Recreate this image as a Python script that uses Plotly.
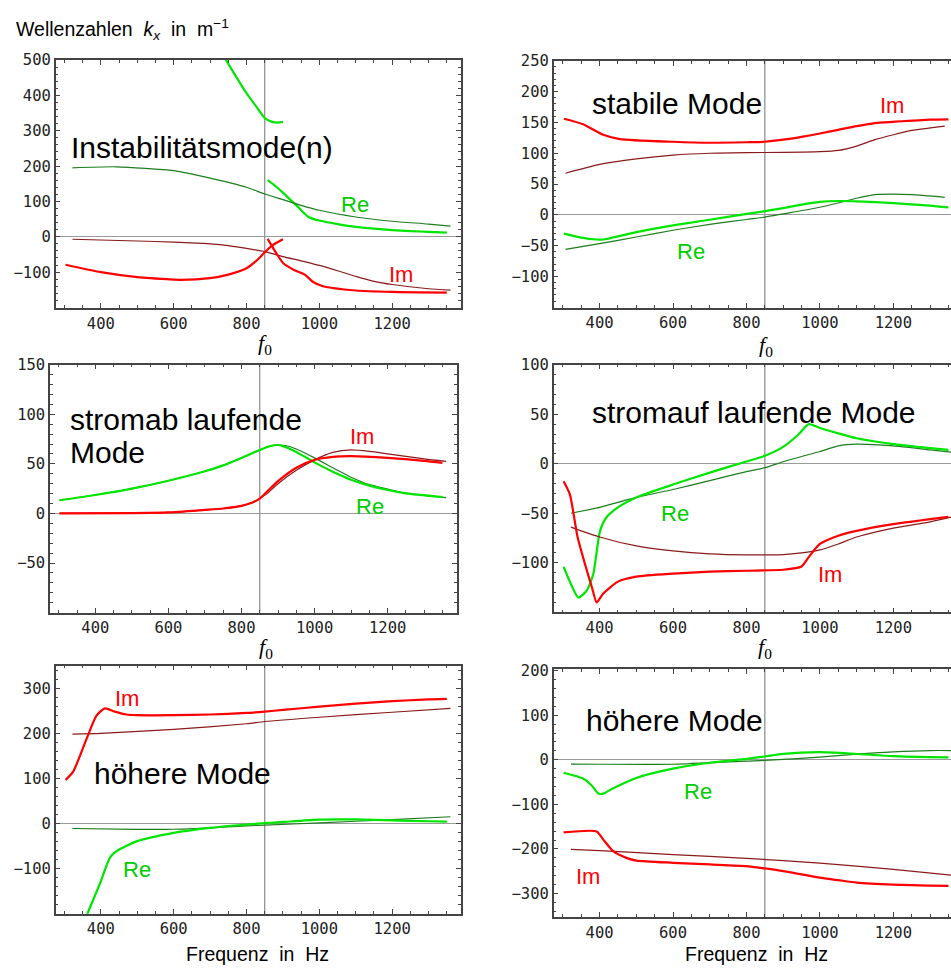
import plotly.graph_objects as go

F0 = 850  # reference frequency (vertical line)

# ---------- Panel 1: Instabilitätsmode(n) ----------
p1_re_a_f = [738, 760, 800, 830, 850, 870, 885, 900]
p1_re_a_v = [510, 472, 406, 364, 336, 325, 323, 325]
p1_re_b_f = [858, 880, 900, 920, 940, 960, 970, 985, 1000, 1050, 1100, 1150, 1200, 1250, 1300, 1350]
p1_re_b_v = [160, 143, 125, 105, 86, 65, 56, 50, 46, 36, 28, 23, 19, 16, 14, 12]
p1_re_t_f = [322, 443, 600, 700, 800, 850, 900, 950, 1000, 1100, 1200, 1300, 1360]
p1_re_t_v = [195, 198, 187, 166, 140, 121, 105, 89, 75, 56, 44, 36, 30]
p1_im_a_f = [303, 400, 500, 600, 620, 700, 750, 800, 830, 850, 870, 900]
p1_im_a_v = [-79, -100, -114, -121, -122, -117, -107, -89, -65, -44, -25, -7]
p1_im_b_f = [858, 882, 901, 929, 960, 983, 1010, 1100, 1200, 1350]
p1_im_b_v = [-6, -47, -75, -93, -107, -128, -140, -152, -156, -158]
p1_im_t_f = [322, 500, 600, 700, 750, 800, 850, 900, 950, 1000, 1050, 1100, 1150, 1200, 1300, 1360]
p1_im_t_v = [-7, -12, -15, -20, -25, -33, -42, -56, -68, -81, -96, -112, -126, -135, -147, -151]

# ---------- Panel 2: stabile Mode ----------
p2_im_f = [303, 355, 410, 455, 600, 700, 800, 850, 900, 950, 1000, 1050, 1100, 1150, 1200, 1300, 1350]
p2_im_v = [156, 147, 130, 123, 118.6, 117, 117.8, 118.6, 122, 126.6, 132, 138, 144, 149, 151, 154.5, 155]
p2_im_t_f = [307, 400, 500, 600, 700, 800, 900, 1000, 1050, 1100, 1150, 1200, 1250, 1340]
p2_im_t_v = [67.6, 82, 91, 97, 100, 101, 101.4, 102.5, 104.6, 111.6, 122, 130, 137, 144]
p2_re_f = [303, 350, 392, 410, 500, 600, 700, 800, 850, 900, 950, 1000, 1050, 1100, 1200, 1300, 1350]
p2_re_v = [-30.5, -37, -40, -40, -28, -17, -8, 1.6, 6, 11, 16.7, 21, 22.5, 22, 19, 15, 12]
p2_re_t_f = [307, 400, 500, 600, 700, 800, 850, 900, 1000, 1050, 1100, 1150, 1200, 1250, 1340]
p2_re_t_v = [-56, -46.6, -36, -25, -15.5, -7.5, -3.7, 1.6, 12.4, 19.3, 27, 32.8, 33.6, 32.8, 28.5]

# ---------- Panel 3: stromab laufende Mode ----------
p3_re_f = [302, 400, 500, 600, 700, 750, 800, 850, 880, 900, 920, 950, 1000, 1050, 1100, 1150, 1200, 1250, 1350]
p3_re_v = [13.3, 18.6, 25, 33, 42.5, 48.5, 56, 64, 68, 69, 67, 62, 51.5, 42, 34, 28, 23.6, 20.3, 16.6]
p3_re_t_f = [302, 400, 500, 600, 700, 750, 800, 850, 880, 900, 920, 950, 1000, 1050, 1100, 1150, 1200, 1250, 1360]
p3_re_t_v = [13.3, 18.6, 25, 33, 42.5, 48.5, 56, 64, 68, 69, 68.5, 65, 56, 46, 36.5, 29, 24.6, 20.5, 16]
p3_im_f = [302, 500, 600, 700, 750, 800, 830, 850, 870, 900, 950, 1000, 1050, 1100, 1200, 1300, 1350]
p3_im_v = [0, 0.3, 1, 3.6, 5, 7.6, 11, 15, 22, 32.5, 46, 54, 57, 57.7, 56, 53, 51]
p3_im_t_f = [302, 500, 600, 700, 750, 800, 830, 850, 870, 900, 950, 1000, 1050, 1100, 1150, 1200, 1300, 1360]
p3_im_t_v = [0, 0.3, 1, 3.6, 5, 7.6, 11, 15, 20, 30, 43.5, 54, 61.5, 64, 62.5, 60, 55, 52.5]

# ---------- Panel 4: stromauf laufende Mode ----------
p4_re_f = [302, 319, 342, 365, 383, 401, 419, 450, 500, 600, 700, 800, 850, 900, 940, 970, 1000, 1050, 1100, 1200, 1300, 1350]
p4_re_v = [-104, -119, -135, -128, -111, -68, -54, -44, -34, -21, -9, 2.3, 8, 17, 29, 40, 36, 30.7, 25.7, 19.7, 15.7, 14]
p4_re_t_f = [322, 400, 500, 600, 700, 800, 850, 900, 950, 1000, 1050, 1100, 1200, 1300, 1360]
p4_re_t_v = [-50, -44, -34, -26, -17, -8, -4, 2, 7.3, 12.3, 18, 19.7, 18, 14, 11.7]
p4_im_f = [302, 319, 340, 360, 380, 392, 410, 450, 500, 600, 700, 800, 900, 950, 970, 1000, 1050, 1100, 1200, 1300, 1350]
p4_im_v = [-17.7, -31, -74, -101, -126, -140, -131, -119, -114, -111, -109, -108, -107, -103.7, -94, -81, -72.7, -67.7, -61, -56, -53.7]
p4_im_t_f = [322, 400, 500, 600, 700, 800, 900, 950, 1000, 1050, 1100, 1200, 1300, 1360]
p4_im_t_v = [-64, -74, -83, -88, -91, -92, -91.7, -90, -87, -81, -74, -65, -58.7, -53.7]

# ---------- Panel 5: höhere Mode (oben) ----------
p5_im_f = [303, 324, 361, 388, 411, 438, 470, 500, 600, 700, 800, 850, 900, 1000, 1100, 1200, 1300, 1350]
p5_im_v = [96.6, 115, 188, 239, 255, 248, 241.5, 240, 240, 241.5, 245, 248, 251.6, 259, 265.6, 271, 275, 276]
p5_im_t_f = [322, 400, 600, 800, 850, 1000, 1200, 1360]
p5_im_t_v = [198, 199.7, 208.5, 221, 226, 235.5, 246.5, 255]
p5_re_f = [355, 397, 425, 443, 500, 600, 700, 800, 850, 900, 1000, 1100, 1200, 1300, 1350]
p5_re_v = [-215, -134, -75.5, -61, -39, -20.6, -9.6, -2.2, 0.7, 3.5, 8.7, 9, 7, 5, 4.4]
p5_re_t_f = [322, 500, 600, 700, 800, 850, 1000, 1200, 1360]
p5_re_t_v = [-11, -13, -12.7, -9.6, -5, -3.7, 1.4, 8.7, 15]

# ---------- Panel 6: höhere Mode (unten) ----------
p6_re_f = [302, 355, 378, 396, 410, 437, 500, 600, 700, 800, 850, 900, 1000, 1100, 1200, 1350]
p6_re_v = [-29, -42, -57, -75.5, -76, -64, -40.7, -20, -6.7, 2.2, 7.4, 13.3, 17, 13, 8.2, 5.2]
p6_re_t_f = [322, 400, 600, 800, 850, 1000, 1100, 1200, 1300, 1360]
p6_re_t_v = [-9.6, -10, -10, -2.9, -1.5, 6, 12.7, 17.8, 20.7, 20.7]
p6_im_f = [302, 392, 410, 437, 473, 500, 600, 700, 800, 850, 900, 950, 1000, 1050, 1100, 1200, 1350]
p6_im_v = [-163, -160.7, -179, -205, -220, -226, -231, -234.7, -238.5, -243.7, -249.6, -257, -264.4, -270, -275.5, -280, -283]
p6_im_t_f = [322, 400, 600, 800, 1000, 1200, 1360]
p6_im_t_v = [-201, -203.7, -212.5, -221, -231.8, -245.8, -259]

# ---------- Texts / axes ----------
titles = ["Instabilitätsmode(n)", "stabile Mode", "stromab laufende", "stromauf laufende Mode",
          "höhere Mode", "höhere Mode"]
x_tickvals = [400, 600, 800, 1000, 1200]
y_ranges = [[-202, 500], [-151, 250], [-100, 150], [-150, 100], [-200, 350], [-353, 204]]
y_tickvals = [
    [-100, 0, 100, 200, 300, 400, 500],
    [-100, -50, 0, 50, 100, 150, 200, 250],
    [-50, 0, 50, 100, 150],
    [-100, -50, 0, 50, 100],
    [-100, 0, 100, 200, 300],
    [-300, -200, -100, 0, 100, 200],
]
y_minor = [20, 10, 10, 10, 20, 20]

BRIGHT_G = "#00e600"
DARK_G = "#1c7d1c"
RED = "#ff0000"
DARK_R = "#8b1a1a"
W_THICK = 2.2
W_THIN = 1.2

W, H = 951, 968

def px_dom(x0, x1):
    return [x0 / W, min(x1 / W, 1.0)]

def py_dom(y_top, y_bot):
    return [1 - y_bot / H, 1 - y_top / H]

layout_px = [
    (55.7, 461, 51.5, 302),
    (553.7, 951, 52.3, 301.7),
    (50, 456.7, 359, 609.3),
    (553.7, 951, 359, 609),
    (55.7, 461, 662.7, 913.3),
    (553.7, 951, 666, 916.7),
]
x_ranges = [[276, 1389], [275, 1357], [276, 1389], [275, 1357], [276, 1389], [275, 1357]]

fig = go.Figure()

panels = [
    [(p1_re_a_f, p1_re_a_v, BRIGHT_G, W_THICK), (p1_re_b_f, p1_re_b_v, BRIGHT_G, W_THICK),
     (p1_re_t_f, p1_re_t_v, DARK_G, W_THIN), (p1_im_t_f, p1_im_t_v, DARK_R, W_THIN),
     (p1_im_a_f, p1_im_a_v, RED, W_THICK), (p1_im_b_f, p1_im_b_v, RED, W_THICK)],
    [(p2_im_t_f, p2_im_t_v, DARK_R, W_THIN), (p2_im_f, p2_im_v, RED, W_THICK),
     (p2_re_t_f, p2_re_t_v, DARK_G, W_THIN), (p2_re_f, p2_re_v, BRIGHT_G, W_THICK)],
    [(p3_re_t_f, p3_re_t_v, DARK_G, W_THIN), (p3_re_f, p3_re_v, BRIGHT_G, W_THICK),
     (p3_im_t_f, p3_im_t_v, DARK_R, W_THIN), (p3_im_f, p3_im_v, RED, W_THICK)],
    [(p4_re_t_f, p4_re_t_v, DARK_G, W_THIN), (p4_re_f, p4_re_v, BRIGHT_G, W_THICK),
     (p4_im_t_f, p4_im_t_v, DARK_R, W_THIN), (p4_im_f, p4_im_v, RED, W_THICK)],
    [(p5_im_t_f, p5_im_t_v, DARK_R, W_THIN), (p5_im_f, p5_im_v, RED, W_THICK),
     (p5_re_t_f, p5_re_t_v, DARK_G, W_THIN), (p5_re_f, p5_re_v, BRIGHT_G, W_THICK)],
    [(p6_re_t_f, p6_re_t_v, DARK_G, W_THIN), (p6_re_f, p6_re_v, BRIGHT_G, W_THICK),
     (p6_im_t_f, p6_im_t_v, DARK_R, W_THIN), (p6_im_f, p6_im_v, RED, W_THICK)],
]

TICKFONT = dict(family="DejaVu Sans Mono", size=15.5, color="#222")
AXCOL = "#444"

for i, (curves, (x0, x1, yt, yb)) in enumerate(zip(panels, layout_px)):
    n = i + 1
    xa = "x" if n == 1 else f"x{n}"
    ya = "y" if n == 1 else f"y{n}"
    for f, v, col, w in curves:
        fig.add_trace(go.Scatter(x=f, y=v, mode="lines",
                                 line=dict(color=col, width=w, shape="spline", smoothing=0.6),
                                 xaxis=xa, yaxis=ya, showlegend=False, hoverinfo="skip"))
    right_col = (i % 2 == 1)
    xkey = "xaxis" if n == 1 else f"xaxis{n}"
    ykey = "yaxis" if n == 1 else f"yaxis{n}"
    fig.update_layout({
        xkey: dict(domain=px_dom(x0, x1), range=x_ranges[i], anchor=ya,
                   tickvals=x_tickvals, ticks="inside", ticklen=5, tickcolor=AXCOL,
                   minor=dict(dtick=50, tick0=0, ticks="inside", ticklen=3, tickcolor=AXCOL),
                   showgrid=False, zeroline=False, showline=True, linecolor=AXCOL, linewidth=1.5,
                   mirror="ticks", tickfont=TICKFONT),
        ykey: dict(domain=py_dom(yt, yb), range=y_ranges[i], anchor=xa,
                   tickvals=y_tickvals[i], ticks="inside", ticklen=5, tickcolor=AXCOL,
                   minor=dict(dtick=y_minor[i], tick0=0, ticks="inside", ticklen=3, tickcolor=AXCOL),
                   showgrid=False, zeroline=True, zerolinecolor="#9a9a9a", zerolinewidth=1.2,
                   showline=True, linecolor=AXCOL, linewidth=1.5,
                   mirror=False if right_col else "ticks", tickfont=TICKFONT),
    })
    fig.add_shape(type="line", x0=F0, x1=F0, y0=0, y1=1, xref=xa, yref=f"{ya} domain",
                  line=dict(color="#8a8a8a", width=1.2), layer="below")

# ---------- Annotations ----------
BIG = dict(family="Liberation Sans", size=30, color="#000")
SMALLG = dict(family="Liberation Sans", size=22, color="#00cc00")
SMALLR = dict(family="Liberation Sans", size=22, color="#ff0000")

def ann(xref, yref, x, y, text, font, xanchor="center"):
    fig.add_annotation(x=x, y=y, xref=xref, yref=yref, text=text, showarrow=False,
                       font=font, xanchor=xanchor, yanchor="middle")

ann("x", "y", 312, 252, titles[0], BIG, "left")
ann("x", "y", 1098, 90, "Re", SMALLG)
ann("x", "y", 1223, -107, "Im", SMALLR)

ann("x2", "y2", 375, 181, titles[1], BIG, "left")
ann("x2", "y2", 1197, 178, "Im", SMALLR)
ann("x2", "y2", 648, -59, "Re", SMALLG)

ann("x3", "y3", 325, 95, titles[2], BIG, "left")
ann("x3", "y3", 325, 61, "Mode", BIG, "left")
ann("x3", "y3", 1129, 78, "Im", SMALLR)
ann("x3", "y3", 1153, 7, "Re", SMALLG)

ann("x4", "y4", 375, 52, titles[3], BIG, "left")
ann("x4", "y4", 605, -50, "Re", SMALLG)
ann("x4", "y4", 1027, -112, "Im", SMALLR)

ann("x5", "y5", 376, 110, titles[4], BIG, "left")
ann("x5", "y5", 473, 277, "Im", SMALLR)
ann("x5", "y5", 498, -102, "Re", SMALLG)

ann("x6", "y6", 357, 87, titles[5], BIG, "left")
ann("x6", "y6", 669, -72, "Re", SMALLG)
ann("x6", "y6", 369, -262, "Im", SMALLR)

# axis titles (paper coords)
F0_FONT = dict(family="Liberation Serif", size=22, color="#000")
XT_FONT = dict(family="Liberation Sans", size=19.5, color="#000")
def pann(px, py, text, font, xanchor="center"):
    fig.add_annotation(x=px / W, y=1 - py / H, xref="paper", yref="paper", text=text, showarrow=False,
                       font=font, xanchor=xanchor, yanchor="middle")

pann(265, 338, "<i>f</i><sub>0</sub>", F0_FONT)
pann(766, 340, "<i>f</i><sub>0</sub>", F0_FONT)
pann(266, 645, "<i>f</i><sub>0</sub>", F0_FONT)
pann(765, 645, "<i>f</i><sub>0</sub>", F0_FONT)
pann(257, 954, "Frequenz  in  Hz", XT_FONT)
pann(756, 954, "Frequenz  in  Hz", XT_FONT)
pann(14, 21, "Wellenzahlen  <i>k</i><sub><i>x</i></sub>  in  m<sup>−1</sup>",
     dict(family="Liberation Sans", size=19.5, color="#000"), "left")

fig.update_layout(width=W, height=H, autosize=False, margin=dict(l=0, r=0, t=0, b=0),
                  paper_bgcolor="white", plot_bgcolor="white", showlegend=False)

fig.write_html("out.html", config={"responsive": False, "displayModeBar": False},
               post_script="document.body.style.margin='0';document.body.style.overflow='hidden';")
